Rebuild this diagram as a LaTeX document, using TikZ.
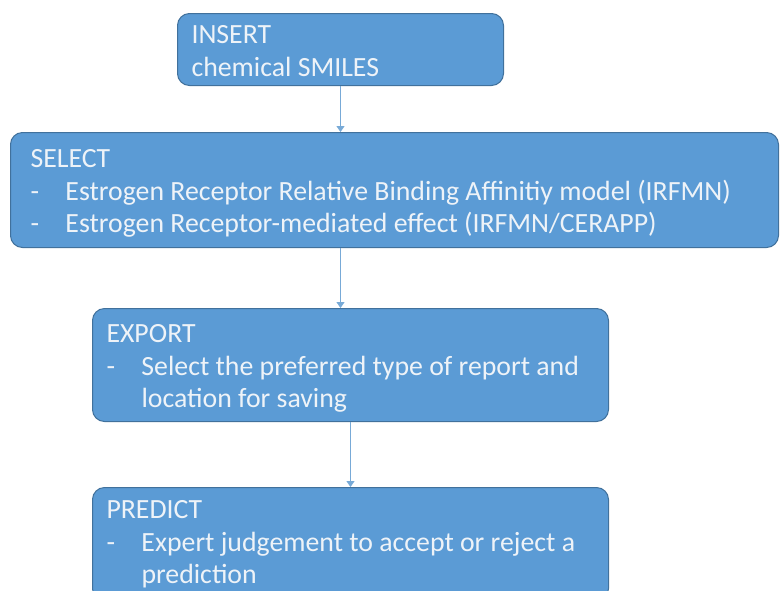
\documentclass[tikz,border=0pt]{standalone}
\usepackage{fontspec}
\setmainfont{Carlito}
\usetikzlibrary{arrows.meta}
\definecolor{boxfill}{RGB}{91,155,213}
\definecolor{boxline}{RGB}{65,113,156}
\definecolor{boxtext}{RGB}{238,243,248}
\definecolor{flowline}{RGB}{120,170,215}
\tikzset{
  stage/.style = {shape=rectangle, rounded corners=12pt,
                  draw=boxline, line width=1pt, fill=boxfill,
                  text=boxtext, anchor=north west, align=left,
                  inner xsep=14pt, font=\fontsize{27.8}{32.5}\selectfont},
  flow/.style  = {draw=flowline, line width=1pt,
                  -{Triangle[length=6pt,width=8pt]}}
}
\newcommand{\stagebody}[3]{\parbox[t][#2][t]{#1}{#3}}
\newcommand{\dashitem}{\makebox[35pt][l]{-}}

\begin{document}
\begin{tikzpicture}[x=1pt, y=1pt]
  \clip (0,0) rectangle (781,-590);
  \fill[white] (0,0) rectangle (781,-590);

  \node [stage, inner ysep=12pt] (insert) at (177,-13)
    {\stagebody{298pt}{48pt}{INSERT\\chemical SMILES}};
  \node [stage, inner xsep=20pt, inner ysep=17pt] (select) at (10,-132)
    {\stagebody{728pt}{81pt}{SELECT\\
      \dashitem Estrogen Receptor Relative Binding Affinitiy model (IRFMN)\\
      \dashitem Estrogen Receptor-mediated effect (IRFMN/CERAPP)}};
  \node [stage, inner ysep=16pt] (export) at (92,-308)
    {\stagebody{488pt}{81pt}{EXPORT\\
      \dashitem Select the preferred type of report and\\
      \hspace*{35pt}location for saving}};
  \node [stage, inner ysep=13pt] (predict) at (92,-487)
    {\stagebody{488pt}{87pt}{PREDICT\\
      \dashitem Expert judgement to accept or reject a\\
      \hspace*{35pt}prediction}};

  \draw [flow] (insert.south) -- (insert.south |- select.north);
  \draw [flow] (select.south -| insert.south) -- (export.north -| insert.south);
  \draw [flow] (export.south) -- (predict.north);
\end{tikzpicture}
\end{document}
